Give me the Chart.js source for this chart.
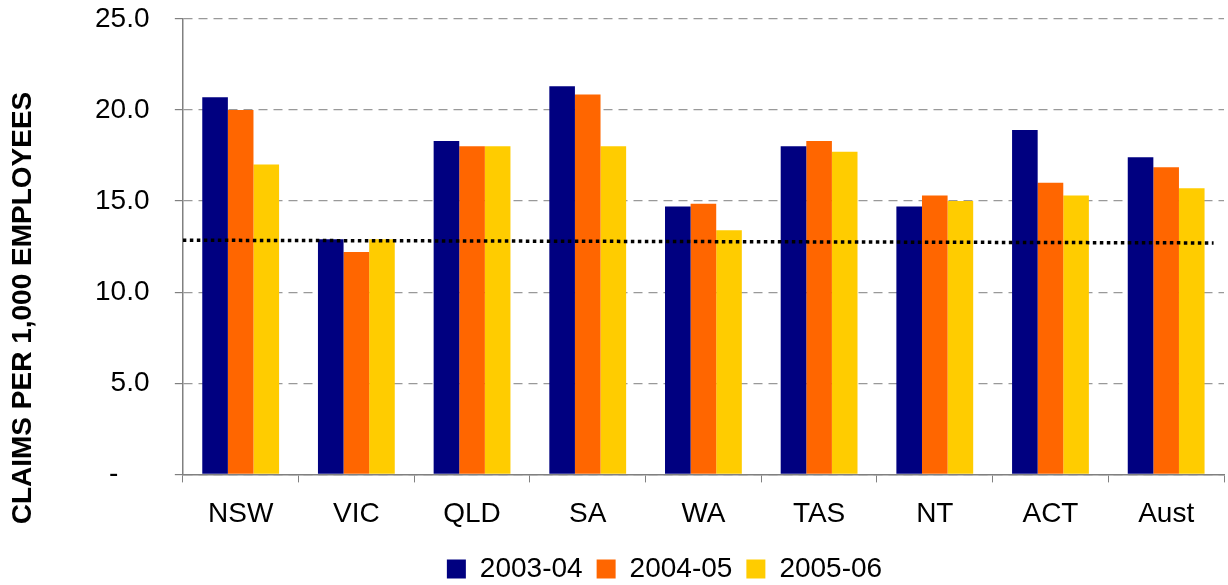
<!DOCTYPE html>
<html>
<head>
<meta charset="utf-8">
<script src="https://cdn.jsdelivr.net/npm/chart.js@4"></script>
<style>
  html, body { margin: 0; padding: 0; background: #ffffff; }
  #wrap { width: 1228px; height: 585px; position: relative; }
</style>
</head>
<body>
<div id="wrap"><canvas id="c"></canvas></div>
<script>
// ---- data ----
const categories = ['NSW', 'VIC', 'QLD', 'SA', 'WA', 'TAS', 'NT', 'ACT', 'Aust'];
const seriesNames = ['2003-04', '2004-05', '2005-06'];
const values2003 = [20.7, 12.9, 18.3, 21.3, 14.7, 18.0, 14.7, 18.9, 17.4];
const values2004 = [20.0, 12.2, 18.0, 20.85, 14.85, 18.3, 15.3, 16.0, 16.85];
const values2005 = [17.0, 12.9, 18.0, 18.0, 13.4, 17.7, 15.0, 15.3, 15.7];
const benchmarkLine = [12.85, 12.7];      // dotted line, start and end values
const yTickValues = [0, 5, 10, 15, 20, 25];
const yTickLabels = ['-', '5.0', '10.0', '15.0', '20.0', '25.0'];
const yAxisTitle = 'CLAIMS PER 1,000 EMPLOYEES';

// ---- styles ----
const colors = ['#000080', '#FF6600', '#FFCC00'];
const FONT = 'Liberation Sans, Arial, sans-serif';
const NB = '\u00a0';

const yTitlePlugin = {
  id: 'yTitle',
  afterDraw(chart) {
    const ctx = chart.ctx;
    ctx.save();
    ctx.translate(23, 308);
    ctx.rotate(-Math.PI / 2);
    ctx.font = 'bold 28px ' + FONT;
    ctx.fillStyle = '#000';
    ctx.textAlign = 'center';
    ctx.textBaseline = 'middle';
    ctx.fillText(yAxisTitle, 0, 0);
    ctx.restore();
  }
};

const legendShift = {
  id: 'legendShift',
  afterLayout(chart) {
    const lg = chart.legend;
    if (lg) {
      lg.left += 6; lg.right += 6;
      lg.top -= 5; lg.bottom -= 5;
    }
  }
};

const seriesValues = [values2003, values2004, values2005];
const datasets = seriesNames.map((name, i) => ({
  type: 'bar',
  indexAxis: 'x',
  label: name,
  data: seriesValues[i],
  backgroundColor: colors[i],
  borderWidth: 0,
  categoryPercentage: 0.664,
  barPercentage: 1.0,
  xAxisID: 'x',
  order: 2
}));
datasets.push({
  type: 'line',
  indexAxis: 'x',
  label: 'benchmark',
  data: benchmarkLine.map((v, i) => ({ x: i / (benchmarkLine.length - 1) * 0.99, y: v })),
  xAxisID: 'x2',
  borderColor: '#000',
  borderWidth: 3.5,
  borderDash: [3.5, 3.5],
  pointRadius: 0,
  fill: false,
  order: 1
});

new Chart(document.getElementById('c'), {
  type: 'bar',
  data: { labels: categories, datasets },
  plugins: [yTitlePlugin, legendShift],
  options: {
    indexAxis: 'y',
    responsive: true,
    maintainAspectRatio: false,
    animation: false,
    layout: { padding: { left: 93, right: 4, top: 0, bottom: -13 } },
    plugins: {
      tooltip: { enabled: false },
      legend: {
        position: 'bottom',
        labels: {
          filter: (item) => item.text !== 'benchmark',
          boxWidth: 19,
          boxHeight: 19,
          padding: 14,
          color: '#000',
          font: { family: FONT, size: 28 }
        }
      }
    },
    scales: {
      x: {
        type: 'category',
        offset: true,
        grid: {
          offset: true,
          drawOnChartArea: false,
          drawTicks: true,
          tickLength: 8,
          color: '#808080'
        },
        border: { display: true, color: '#808080', width: 1.5 },
        ticks: {
          color: '#000',
          font: { family: FONT, size: 28 },
          padding: 15,
          maxRotation: 0
        }
      },
      x2: {
        type: 'linear',
        min: 0,
        max: 1,
        offset: false,
        display: false
      },
      y: {
        type: 'linear',
        min: 0,
        max: 25,
        offset: false,
        afterBuildTicks(scale) {
          scale.ticks = yTickValues.map(v => ({ value: v }));
        },
        grid: {
          offset: false,
          color: '#999999',
          lineWidth: 1.2,
          drawTicks: true,
          tickLength: 8,
          tickColor: '#808080',
          tickBorderDash: []
        },
        border: { display: true, color: '#808080', width: 1.5, dash: [9, 6] },
        ticks: {
          color: '#000',
          font: { family: FONT, size: 28 },
          padding: 2,
          callback: (v) => {
            const lbl = yTickLabels[yTickValues.indexOf(v)];
            return lbl + NB.repeat(lbl === '-' ? 7 : 3);
          }
        }
      }
    }
  }
});
</script>
</body>
</html>
